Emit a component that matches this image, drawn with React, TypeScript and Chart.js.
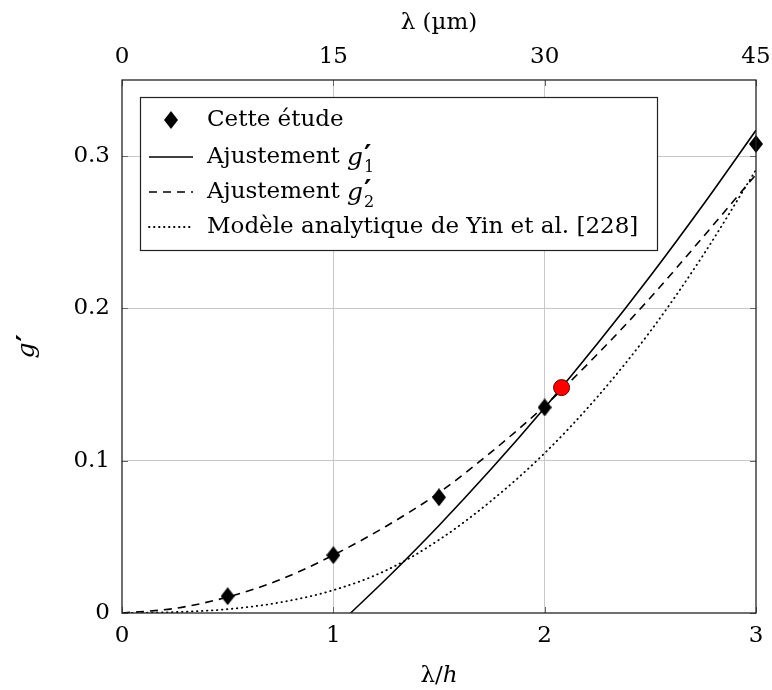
import React, { useEffect, useRef } from 'react';
import { Chart, registerables } from 'chart.js';

Chart.register(...registerables);

const FONT = '"DejaVu Serif", serif';
const PRIME_FONT = '"DejaVu Sans", sans-serif';
const FS = 23;

// axis ticks
const xTicks = [0, 1, 2, 3];
const topTicks = [0, 15, 30, 45];
const yTicks = [0, 0.1, 0.2, 0.3];

// "Cette étude" data points
const studyX = [0.5, 1, 1.5, 2, 3];
const studyY = [0.011, 0.038, 0.076, 0.135, 0.308];

// highlighted point
const highlightX = [2.08];
const highlightY = [0.148];

// Ajustement g'1 (solid)
const fit1X = [1.082, 1.25, 1.5, 1.75, 2, 2.25, 2.5, 2.75, 3];
const fit1Y = [0, 0.0223, 0.0575, 0.095, 0.1348, 0.1769, 0.2213, 0.2681, 0.317];

// Ajustement g'2 (dashed)
const fit2X = [0, 0.25, 0.5, 0.75, 1, 1.25, 1.5, 1.75, 2, 2.25, 2.5, 2.75, 3];
const fit2Y = [0, 0.003, 0.0105, 0.022, 0.038, 0.057, 0.079, 0.106, 0.136, 0.17, 0.207, 0.247, 0.288];

// Modèle analytique de Yin et al. (dotted)
const yinX = [0, 0.25, 0.5, 0.75, 1, 1.25, 1.5, 1.75, 2, 2.25, 2.5, 2.75, 3];
const yinY = [0, 0.0006, 0.0025, 0.007, 0.015, 0.028, 0.048, 0.074, 0.105, 0.142, 0.185, 0.235, 0.291];

const legendLabels = ['Cette étude', 'Ajustement', 'Ajustement', 'Modèle analytique de Yin et al. [228]'];
const legendSubs = ['', '1', '2', ''];

const zip = (xs: number[], ys: number[]) => xs.map((x, i) => ({ x, y: ys[i] }));

function makeDiamond(w: number, h: number) {
  const c = document.createElement('canvas');
  c.width = w;
  c.height = h;
  const ctx = c.getContext('2d')!;
  ctx.fillStyle = '#000';
  ctx.beginPath();
  ctx.moveTo(w / 2, 0);
  ctx.lineTo(w, h / 2);
  ctx.lineTo(w / 2, h);
  ctx.lineTo(0, h / 2);
  ctx.closePath();
  ctx.fill();
  return c;
}

export default function App() {
  const ref = useRef<HTMLCanvasElement>(null);

  useEffect(() => {
    const canvas = ref.current!;
    const diamond = makeDiamond(14, 18);

    const decor = {
      id: 'decor',
      afterDraw(chart: any) {
        const ctx = chart.ctx as CanvasRenderingContext2D;
        const a = chart.chartArea;
        const xs = chart.scales.x;
        const ys = chart.scales.y;
        ctx.save();
        // inner tick marks
        ctx.strokeStyle = '#666';
        ctx.lineWidth = 1;
        ctx.beginPath();
        xTicks.forEach((v) => {
          const px = Math.round(xs.getPixelForValue(v)) + 0.5;
          ctx.moveTo(px, a.bottom);
          ctx.lineTo(px, a.bottom - 6);
          ctx.moveTo(px, a.top);
          ctx.lineTo(px, a.top + 6);
        });
        yTicks.forEach((v) => {
          const py = Math.round(ys.getPixelForValue(v)) + 0.5;
          ctx.moveTo(a.left, py);
          ctx.lineTo(a.left + 6, py);
          ctx.moveTo(a.right, py);
          ctx.lineTo(a.right - 6, py);
        });
        ctx.stroke();
        // frame
        ctx.strokeStyle = '#222';
        ctx.lineWidth = 1.3;
        ctx.strokeRect(a.left, a.top, a.right - a.left, a.bottom - a.top);

        // axis titles
        const cx = (a.left + a.right) / 2;
        ctx.fillStyle = '#000';
        ctx.textBaseline = 'alphabetic';
        // top: λ (µm)
        ctx.font = `${FS}px ${FONT}`;
        ctx.textAlign = 'center';
        ctx.fillText('λ (µm)', cx, 29);
        // bottom: λ/h
        const t1 = 'λ/';
        ctx.font = `${FS}px ${FONT}`;
        const w1 = ctx.measureText(t1).width;
        ctx.font = `italic ${FS}px ${FONT}`;
        const w2 = ctx.measureText('h').width;
        const sx = cx - (w1 + w2) / 2;
        ctx.textAlign = 'left';
        ctx.font = `${FS}px ${FONT}`;
        ctx.fillText(t1, sx, 682);
        ctx.font = `italic ${FS}px ${FONT}`;
        ctx.fillText('h', sx + w1, 682);
        // left: g'
        ctx.save();
        ctx.translate(34, (a.top + a.bottom) / 2);
        ctx.rotate(-Math.PI / 2);
        ctx.font = `italic 25px ${FONT}`;
        const gw = ctx.measureText('g').width;
        ctx.textAlign = 'left';
        ctx.fillText('g', -(gw + 8) / 2, 0);
        ctx.font = `bold 28px ${PRIME_FONT}`;
        ctx.fillText('′', -(gw + 8) / 2 + gw + 1, 3);
        ctx.restore();

        // legend
        const L = 140, T = 97, R = 657, B = 250;
        ctx.fillStyle = '#fff';
        ctx.fillRect(L, T, R - L, B - T);
        ctx.strokeStyle = '#222';
        ctx.lineWidth = 1.2;
        ctx.strokeRect(L + 0.5, T + 0.5, R - L, B - T);
        const rows = [120, 157, 192, 227];
        const textX = 207;
        rows.forEach((ry, i) => {
          ctx.save();
          ctx.strokeStyle = '#000';
          ctx.lineWidth = 1.6;
          if (i === 0) {
            ctx.drawImage(diamond, 171 - 7, ry - 9);
          } else {
            if (i === 2) ctx.setLineDash([8, 6]);
            if (i === 3) { ctx.setLineDash([0.5, 4.5]); ctx.lineCap = 'round'; ctx.lineWidth = 1.8; }
            ctx.beginPath();
            ctx.moveTo(149, ry);
            ctx.lineTo(193, ry);
            ctx.stroke();
          }
          ctx.restore();
          ctx.fillStyle = '#000';
          ctx.textAlign = 'left';
          ctx.textBaseline = 'middle';
          ctx.font = `${FS}px ${FONT}`;
          const label = legendLabels[i];
          ctx.fillText(label, textX, ry);
          if (legendSubs[i]) {
            const lw = ctx.measureText(label + ' ').width;
            ctx.font = `italic 25px ${FONT}`;
            ctx.fillText('g', textX + lw, ry + 1);
            const g2 = ctx.measureText('g').width;
            ctx.font = `bold 28px ${PRIME_FONT}`;
            ctx.fillText('′', textX + lw + g2 + 1, ry + 1);
            ctx.font = `16px ${FONT}`;
            ctx.fillText(legendSubs[i], textX + lw + g2 + 1, ry + 11);
          }
        });
        ctx.restore();
      },
    };

    const gridColor = (ctx: any) => {
      const v = ctx.tick ? ctx.tick.value : null;
      return v === 0 || v === 3 || v === 0.35 ? 'rgba(0,0,0,0)' : '#c8c8c8';
    };

    const fitX = (h: number) => (s: any) => {
      s.height = h;
      s.paddingLeft = 0;
      s.paddingRight = 0;
    };

    const chart = new Chart(canvas, {
      type: 'scatter',
      data: {
        datasets: [
          {
            label: 'highlight',
            data: zip(highlightX, highlightY),
            pointRadius: 8,
            pointBackgroundColor: '#ff0000',
            pointBorderColor: '#5a0000',
            pointBorderWidth: 1,
            showLine: false,
            order: 0,
            clip: false,
          } as any,
          {
            label: legendLabels[0],
            data: zip(studyX, studyY),
            pointStyle: diamond,
            showLine: false,
            order: 1,
            clip: false,
          },
          {
            label: 'g1',
            data: zip(fit1X, fit1Y),
            showLine: true,
            borderColor: '#000',
            borderWidth: 1.6,
            pointRadius: 0,
            cubicInterpolationMode: 'monotone',
            order: 2,
          },
          {
            label: 'g2',
            data: zip(fit2X, fit2Y),
            showLine: true,
            borderColor: '#000',
            borderWidth: 1.6,
            borderDash: [8, 6],
            pointRadius: 0,
            cubicInterpolationMode: 'monotone',
            order: 3,
          },
          {
            label: 'yin',
            data: zip(yinX, yinY),
            showLine: true,
            borderColor: '#000',
            borderWidth: 1.8,
            borderDash: [0.5, 4.5],
            borderCapStyle: 'round',
            pointRadius: 0,
            cubicInterpolationMode: 'monotone',
            order: 4,
          },
        ],
      },
      options: {
        animation: false,
        responsive: false,
        maintainAspectRatio: false,
        layout: { padding: { left: 0, right: 16, top: 0, bottom: 0 } },
        plugins: { legend: { display: false }, tooltip: { enabled: false } },
        scales: {
          x: {
            type: 'linear',
            position: 'bottom',
            min: 0,
            max: 3,
            afterBuildTicks: (s: any) => { s.ticks = xTicks.map((v) => ({ value: v })); },
            afterFit: fitX(77),
            grid: { color: gridColor, drawTicks: false, lineWidth: 1 },
            border: { display: false },
            ticks: { font: { family: FONT, size: FS }, color: '#000', padding: 9, maxRotation: 0 },
          },
          x2: {
            type: 'linear',
            position: 'top',
            min: 0,
            max: 45,
            afterBuildTicks: (s: any) => { s.ticks = topTicks.map((v) => ({ value: v })); },
            afterFit: fitX(80),
            grid: { display: false, drawTicks: false },
            border: { display: false },
            ticks: { font: { family: FONT, size: FS }, color: '#000', padding: 9, maxRotation: 0 },
          },
          y: {
            type: 'linear',
            min: 0,
            max: 0.35,
            afterBuildTicks: (s: any) => { s.ticks = yTicks.map((v) => ({ value: v })); },
            afterFit: (s: any) => { s.width = 122; s.paddingTop = 0; s.paddingBottom = 0; },
            grid: { color: gridColor, drawTicks: false, lineWidth: 1 },
            border: { display: false },
            ticks: {
              font: { family: FONT, size: FS },
              color: '#000',
              padding: 12,
              callback: (v: any) => String(Math.round(v * 10) / 10),
            },
          },
        },
      },
      plugins: [decor],
    } as any);

    return () => chart.destroy();
  }, []);

  return (
    <div style={{ position: 'fixed', left: 0, top: 0, width: 772, height: 690, background: '#fff' }}>
      <canvas ref={ref} width={772} height={690} style={{ width: 772, height: 690, display: 'block' }} />
    </div>
  );
}
